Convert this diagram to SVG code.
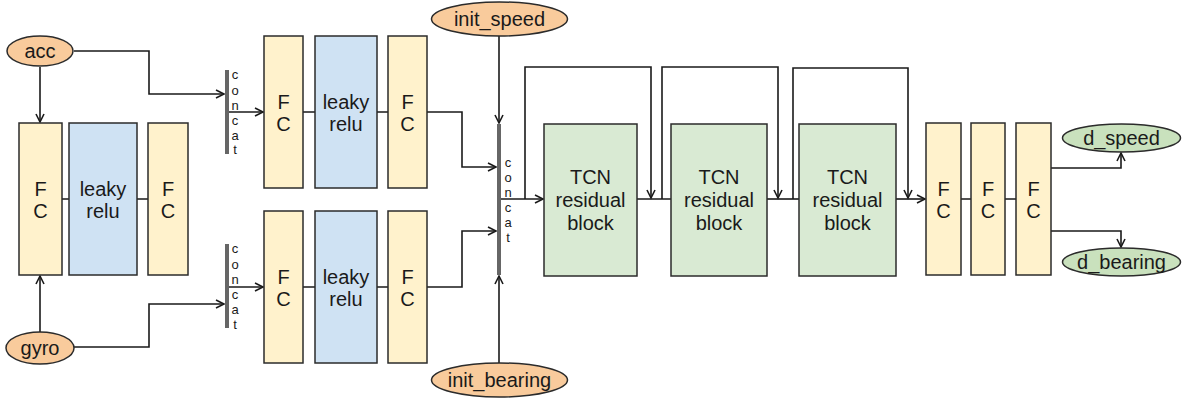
<svg xmlns="http://www.w3.org/2000/svg" width="1185" height="399" viewBox="0 0 1185 399">
<style>
.fc{fill:#fff2cc;stroke:#2b2b2b;stroke-width:1.5}
.lr{fill:#cfe2f3;stroke:#2b2b2b;stroke-width:1.5}
.tcn{fill:#d9ead3;stroke:#2b2b2b;stroke-width:1.5}
.in{fill:#f9cb9c;stroke:#2b2b2b;stroke-width:1.5}
.out{fill:#c9e1bd;stroke:#2b2b2b;stroke-width:1.5}
.bar{fill:#666666}
text{font-family:"Liberation Sans",Arial,sans-serif;fill:#1a1a1a;text-anchor:middle}
.t{font-size:20px}
.s{font-size:13px}
.c{fill:none;stroke:#1a1a1a;stroke-width:1.6}
</style>
<defs>
<marker id="a" markerUnits="userSpaceOnUse" markerWidth="12" markerHeight="12" refX="9" refY="5" orient="auto">
<path d="M1,1 L9,5 L1,9" fill="none" stroke="#1a1a1a" stroke-width="1.6"/>
</marker>
</defs>

<g id="connectors">
<path class="c" d="M40,67 V122" marker-end="url(#a)"/>
<path class="c" d="M40,332 V276" marker-end="url(#a)"/>
<path class="c" d="M62,199 H69 M137,199 H148"/>
<path class="c" d="M74,51 H149 V94 H224" marker-end="url(#a)"/>
<path class="c" d="M74,347 H149 V304 H224" marker-end="url(#a)"/>
<path class="c" d="M229,112 H263" marker-end="url(#a)"/>
<path class="c" d="M229,287 H263" marker-end="url(#a)"/>
<path class="c" d="M303,112 H315 M377,112 H388"/>
<path class="c" d="M303,287 H315 M377,287 H388"/>
<path class="c" d="M427,112 H462 V167 H496" marker-end="url(#a)"/>
<path class="c" d="M427,287 H462 V231 H496" marker-end="url(#a)"/>
<path class="c" d="M499,36 V123" marker-end="url(#a)"/>
<path class="c" d="M499,363 V276" marker-end="url(#a)"/>
<path class="c" d="M501,199 H543" marker-end="url(#a)"/>
<path class="c" d="M525,199 V67 H651 V198" marker-end="url(#a)"/>
<path class="c" d="M637,199 H671"/>
<path class="c" d="M662,199 V67 H778 V198" marker-end="url(#a)"/>
<path class="c" d="M767,199 H799"/>
<path class="c" d="M793,199 V68 H908 V198" marker-end="url(#a)"/>
<path class="c" d="M896,199 H925" marker-end="url(#a)"/>
<path class="c" d="M961,199 H971 M1005,199 H1016"/>
<path class="c" d="M1051,168 H1121 V153" marker-end="url(#a)"/>
<path class="c" d="M1051,231 H1121 V247" marker-end="url(#a)"/>
</g>

<g id="acc"><ellipse class="in" cx="40" cy="51" rx="33" ry="15"/><text class="t" x="40" y="58">acc</text></g>
<g id="gyro"><ellipse class="in" cx="40" cy="348" rx="34" ry="16"/><text class="t" x="40" y="355">gyro</text></g>
<g id="init_speed"><ellipse class="in" cx="499.5" cy="19" rx="68" ry="17"/><text class="t" x="499.5" y="26">init_speed</text></g>
<g id="init_bearing"><ellipse class="in" cx="499.5" cy="380" rx="68" ry="17"/><text class="t" x="499.5" y="387">init_bearing</text></g>

<g id="fc1"><rect class="fc" x="19" y="123" width="43" height="152"/><text class="t" x="40.5" y="196">F</text><text class="t" x="40.5" y="218">C</text></g>
<g id="lr1"><rect class="lr" x="69" y="123" width="68" height="152"/><text class="t" x="103" y="196">leaky</text><text class="t" x="103" y="218">relu</text></g>
<g id="fc2"><rect class="fc" x="148" y="123" width="40" height="152"/><text class="t" x="168" y="196">F</text><text class="t" x="168" y="218">C</text></g>

<g id="concat1"><rect class="bar" x="225" y="70" width="4" height="84"/>
<text class="s" x="235" y="79">c</text><text class="s" x="235" y="95">o</text><text class="s" x="235" y="110">n</text><text class="s" x="235" y="125">c</text><text class="s" x="235" y="140">a</text><text class="s" x="235" y="154">t</text></g>
<g id="concat2"><rect class="bar" x="225" y="244" width="4" height="84"/>
<text class="s" x="235" y="253">c</text><text class="s" x="235" y="269">o</text><text class="s" x="235" y="284">n</text><text class="s" x="235" y="299">c</text><text class="s" x="235" y="314">a</text><text class="s" x="235" y="329">t</text></g>

<g id="fc3"><rect class="fc" x="264" y="36" width="39" height="152"/><text class="t" x="283.5" y="109">F</text><text class="t" x="283.5" y="131">C</text></g>
<g id="lr2"><rect class="lr" x="315" y="36" width="62" height="152"/><text class="t" x="346" y="109">leaky</text><text class="t" x="346" y="131">relu</text></g>
<g id="fc4"><rect class="fc" x="388" y="36" width="39" height="152"/><text class="t" x="407.5" y="109">F</text><text class="t" x="407.5" y="131">C</text></g>

<g id="fc5"><rect class="fc" x="264" y="211" width="39" height="152"/><text class="t" x="283.5" y="284">F</text><text class="t" x="283.5" y="306">C</text></g>
<g id="lr3"><rect class="lr" x="315" y="211" width="62" height="152"/><text class="t" x="346" y="284">leaky</text><text class="t" x="346" y="306">relu</text></g>
<g id="fc6"><rect class="fc" x="388" y="211" width="39" height="152"/><text class="t" x="407.5" y="284">F</text><text class="t" x="407.5" y="306">C</text></g>

<g id="concat3"><rect class="bar" x="497" y="124" width="4" height="151"/>
<text class="s" x="508" y="167">c</text><text class="s" x="508" y="182">o</text><text class="s" x="508" y="197">n</text><text class="s" x="508" y="212">c</text><text class="s" x="508" y="227">a</text><text class="s" x="508" y="242">t</text></g>

<g id="tcn1"><rect class="tcn" x="544" y="124" width="93" height="152"/><text class="t" x="590.5" y="184">TCN</text><text class="t" x="590.5" y="207">residual</text><text class="t" x="590.5" y="230">block</text></g>
<g id="tcn2"><rect class="tcn" x="671" y="124" width="96" height="152"/><text class="t" x="719" y="184">TCN</text><text class="t" x="719" y="207">residual</text><text class="t" x="719" y="230">block</text></g>
<g id="tcn3"><rect class="tcn" x="799" y="124" width="97" height="152"/><text class="t" x="847.5" y="184">TCN</text><text class="t" x="847.5" y="207">residual</text><text class="t" x="847.5" y="230">block</text></g>

<g id="fc7"><rect class="fc" x="926" y="123" width="35" height="152"/><text class="t" x="943.5" y="196">F</text><text class="t" x="943.5" y="218">C</text></g>
<g id="fc8"><rect class="fc" x="971" y="123" width="34" height="152"/><text class="t" x="988" y="196">F</text><text class="t" x="988" y="218">C</text></g>
<g id="fc9"><rect class="fc" x="1016" y="123" width="35" height="152"/><text class="t" x="1033.5" y="196">F</text><text class="t" x="1033.5" y="218">C</text></g>

<g id="d_speed"><ellipse class="out" cx="1121.5" cy="138" rx="59" ry="14"/><text class="t" x="1121.5" y="145">d_speed</text></g>
<g id="d_bearing"><ellipse class="out" cx="1121.5" cy="262" rx="59" ry="14"/><text class="t" x="1121.5" y="269">d_bearing</text></g>
</svg>
